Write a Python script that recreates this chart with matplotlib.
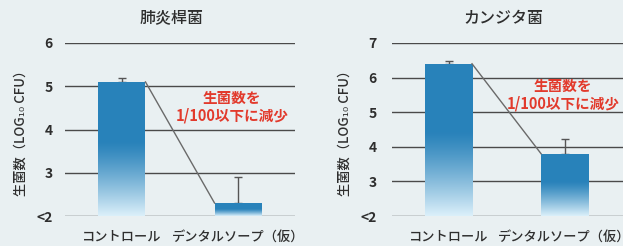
import numpy as np
import matplotlib
matplotlib.use("Agg")
import matplotlib.pyplot as plt

plt.rcParams['font.family'] = ['Noto Sans CJK JP', 'DejaVu Sans']

# ---- data ----
categories = ["コントロール", "デンタルソープ（仮）"]
titles = ["肺炎桿菌", "カンジタ菌"]
values_left = [5.1, 2.3]
errors_left = [0.1, 0.6]
values_right = [6.4, 3.8]
errors_right = [0.07, 0.42]
ticks_left = [2, 3, 4, 5, 6]
ticks_right = [2, 3, 4, 5, 6, 7]
ylabel = "生菌数（LOG₁₀ CFU）"
note = "生菌数を\n1/100以下に減少"

BG = "#e9f0f2"
DARK = np.array([0.16, 0.51, 0.73])
LIGHT = np.array([0.86, 0.94, 0.98])
GRID = "#4a4a4a"
TEXT = "#2e2e2e"
RED = "#e23a2c"

W, H = 623, 246
fig = plt.figure(figsize=(W / 100, H / 100), dpi=100, facecolor=BG)

def grad_image(n=200, start=0.45):
    t = np.linspace(0, 1, n)  # 0 top -> 1 bottom
    f = np.clip((t - start) / (1 - start), 0, 1) ** 1.2
    img = DARK[None, :] * (1 - f[:, None]) + LIGHT[None, :] * f[:, None]
    return img[:, None, :]

def panel(rect, xlim, ticks, vals, errs, title, title_x, note_xy, tick_pad):
    ax = fig.add_axes(rect)
    ax.set_facecolor("none")
    ax.set_xlim(*xlim)
    ax.set_ylim(ticks[0], ticks[-1])
    for s in ax.spines.values():
        s.set_visible(False)
    ax.set_yticks(ticks)
    ax.set_yticklabels(["<2"] + [str(t) for t in ticks[1:]], fontsize=10,
                       color=TEXT, fontweight='bold')
    ax.tick_params(axis='y', length=0, pad=tick_pad)
    ax.tick_params(axis='x', length=0, pad=10)
    for t in ticks:
        ax.axhline(t, color=GRID, lw=1.0, zorder=1)
    x = np.arange(len(vals))
    width = 0.405
    bars = ax.bar(x, np.array(vals) - ticks[0], bottom=ticks[0], width=width,
                  color="none", edgecolor="none", zorder=3)
    img = grad_image()
    for b in bars:
        x0, y0 = b.get_x(), b.get_y()
        im = ax.imshow(img, extent=(x0, x0 + b.get_width(), y0, y0 + b.get_height()),
                       aspect='auto', zorder=3, interpolation='bilinear')
        im.set_clip_path(b)
    ax.errorbar(x, vals, yerr=[np.zeros(len(errs)), errs], fmt='none',
                ecolor="#555555", elinewidth=1.0, capsize=3, capthick=1.0, zorder=2)
    ax.plot([x[0] + width / 2, x[1] - width / 2], [vals[0], vals[1]],
            color="#6a6a6a", lw=1.0, zorder=4)
    ax.set_xticks(x)
    ax.set_xticklabels(categories, fontsize=9.5, color=TEXT, fontweight='medium')
    ax.set_ylabel(ylabel, fontsize=9.5, color=TEXT, labelpad=6, fontweight='medium')
    fig.text(title_x / W, 1 - 18 / H, title, ha='center', va='center',
             fontsize=11.5, color=TEXT, fontweight='medium')
    fig.text(note_xy[0] / W, 1 - note_xy[1] / H, note, ha='center', va='center',
             fontsize=10.5, color=RED, fontweight='bold', linespacing=1.15)
    return ax

# left panel: x 65..295 px, y 43..216 px
panel([65 / W, 1 - 216 / H, 230 / W, 173 / H], (-0.491, 1.491), ticks_left,
      values_left, errors_left, titles[0], 172, (232, 107), 9)
# right panel: x 392..640 px
panel([392 / W, 1 - 216 / H, 248 / W, 173 / H], (-0.487, 1.65), ticks_right,
      values_right, errors_right, titles[1], 503, (563, 95), 11)

fig.savefig("out.png", dpi=100, facecolor=BG)
